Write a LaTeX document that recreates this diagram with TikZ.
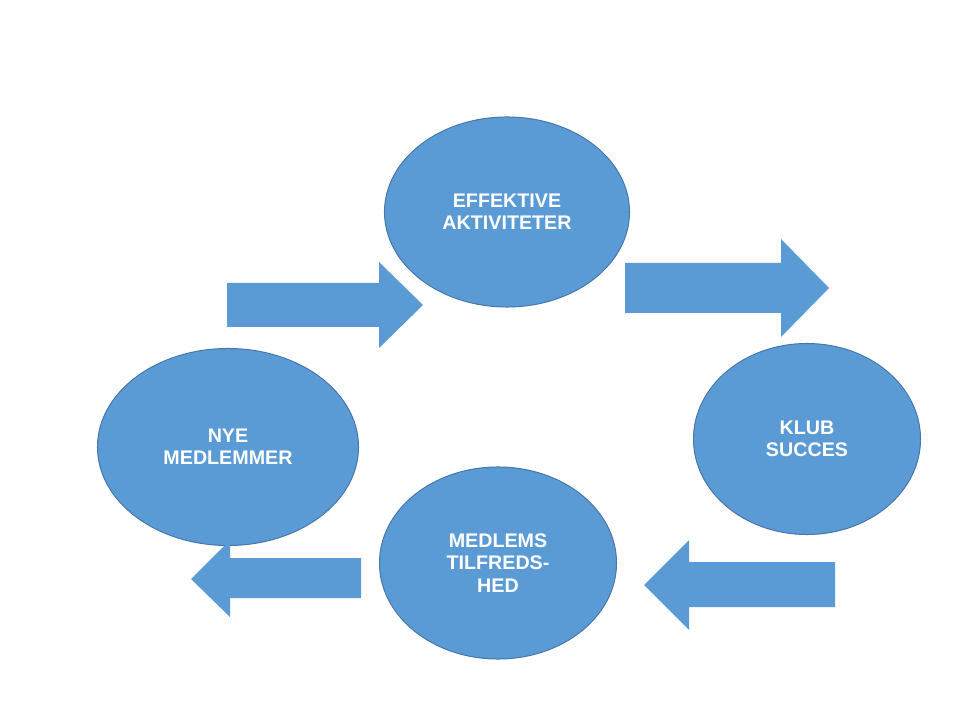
\documentclass[tikz,border=0pt]{standalone}
\usepackage{fontspec}
\setmainfont{Liberation Sans}
\usepackage{tikz}
\usetikzlibrary{shapes.geometric}
\usepackage{xcolor}
\definecolor{CycleBlue}{HTML}{5B9BD5}
\definecolor{CycleEdge}{HTML}{4676AA}

\tikzset{
  cyclenode/.style={ellipse,draw=CycleEdge,fill=CycleBlue,line width=0.7pt,inner sep=0pt,align=center,
    text=white,font=\bfseries\fontsize{14}{15.8}\selectfont},
  blockarrow/.style={fill=CycleBlue}
}

\begin{document}
\begin{tikzpicture}[x=0.025cm,y=-0.025cm]
\useasboundingbox (0,0) rectangle (960,720);
\fill[white] (0,0) rectangle (960,720);
\node[cyclenode,minimum width=6.125cm,minimum height=4.75cm] (akt) at (507,212) {EFFEKTIVE\\AKTIVITETER};
\node[cyclenode,minimum width=6.525cm,minimum height=4.925cm] (nye) at (228,447) {NYE\\MEDLEMMER};
\node[cyclenode,minimum width=5.675cm,minimum height=4.775cm] (klub) at (807,439) {KLUB\\SUCCES};
\node[cyclenode,minimum width=5.925cm,minimum height=4.8cm] (tilf) at (498,563) {MEDLEMS\\TILFREDS-\\HED};
% block arrows round the cycle
\fill[blockarrow] (227,283) -- (379,283) -- (379,262) -- (423,305) -- (379,348) -- (379,327) -- (227,327) -- cycle;
\fill[blockarrow] (625,263) -- (781,263) -- (781,239) -- (829,288) -- (781,337) -- (781,313) -- (625,313) -- cycle;
\fill[blockarrow] (835,562) -- (689,562) -- (689,540) -- (644,585) -- (689,630) -- (689,607) -- (835,607) -- cycle;
\fill[blockarrow] (361,558) -- (230,558) -- (230,540) -- (191,579) -- (230,617) -- (230,598) -- (361,598) -- cycle;
\end{tikzpicture}
\end{document}
